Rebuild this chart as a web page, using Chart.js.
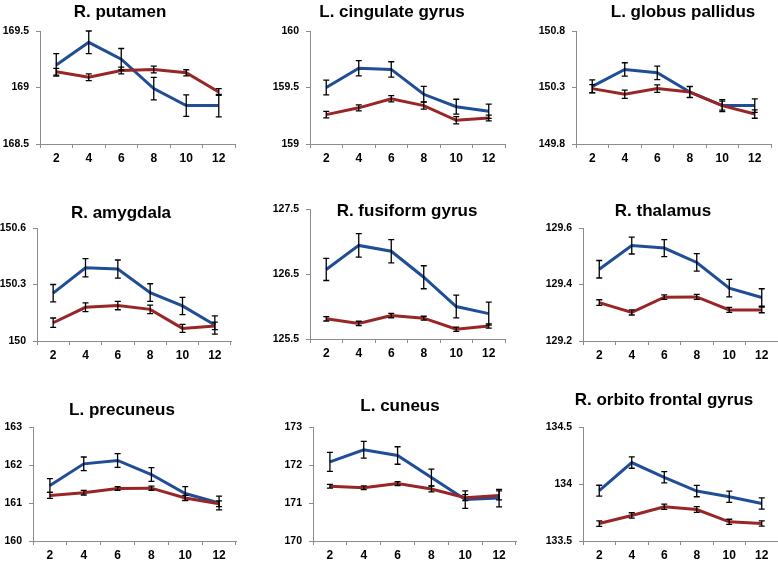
<!DOCTYPE html>
<html>
<head>
<meta charset="utf-8">
<script src="https://cdn.jsdelivr.net/npm/chart.js@4"></script>
<style>
  html, body { margin: 0; padding: 0; background: #fff; overflow: hidden; }
  body { width: 778px; height: 561px; position: relative; }
  .panel { position: absolute; }
</style>
</head>
<body>
<div id="wrap"></div>
<script>
// categories (weeks)
const weeks = ['2', '4', '6', '8', '10', '12'];

// blue = group A, red = group B, with error bars
const putamenA = [169.20, 169.40, 169.25, 168.99, 168.84, 168.84];
const putamenAErr = [0.10, 0.10, 0.095, 0.10, 0.095, 0.10];
const putamenB = [169.14, 169.09, 169.15, 169.16, 169.13, 168.96];
const putamenBErr = [0.03, 0.03, 0.03, 0.03, 0.027, 0.03];
const putamenTicks = [168.5, 169, 169.5];

const cingulateA = [159.50, 159.67, 159.66, 159.44, 159.33, 159.29];
const cingulateAErr = [0.066, 0.068, 0.068, 0.07, 0.066, 0.063];
const cingulateB = [159.26, 159.32, 159.40, 159.34, 159.21, 159.23];
const cingulateBErr = [0.028, 0.026, 0.028, 0.032, 0.032, 0.025];
const cingulateTicks = [159, 159.5, 160];

const pallidusA = [150.31, 150.46, 150.43, 150.26, 150.14, 150.14];
const pallidusAErr = [0.057, 0.059, 0.06, 0.05, 0.053, 0.06];
const pallidusB = [150.29, 150.24, 150.29, 150.26, 150.14, 150.065];
const pallidusBErr = [0.035, 0.037, 0.034, 0.047, 0.04, 0.037];
const pallidusTicks = [149.8, 150.3, 150.8];

const amygdalaA = [150.254, 150.389, 150.382, 150.257, 150.186, 150.085];
const amygdalaAErr = [0.046, 0.048, 0.048, 0.047, 0.046, 0.048];
const amygdalaB = [150.097, 150.179, 150.188, 150.168, 150.067, 150.08];
const amygdalaBErr = [0.025, 0.023, 0.022, 0.023, 0.021, 0.02];
const amygdalaTicks = [150, 150.3, 150.6];

const fusiformA = [126.57, 126.94, 126.85, 126.45, 126.00, 125.89];
const fusiformAErr = [0.17, 0.18, 0.18, 0.177, 0.174, 0.177];
const fusiformB = [125.81, 125.74, 125.86, 125.82, 125.65, 125.70];
const fusiformBErr = [0.033, 0.033, 0.033, 0.03, 0.033, 0.033];
const fusiformTicks = [125.5, 126.5, 127.5];

const thalamusA = [129.454, 129.538, 129.529, 129.478, 129.387, 129.354];
const thalamusAErr = [0.031, 0.03, 0.03, 0.031, 0.031, 0.031];
const thalamusB = [129.336, 129.301, 129.355, 129.356, 129.31, 129.31];
const thalamusBErr = [0.01, 0.009, 0.008, 0.009, 0.009, 0.01];
const thalamusTicks = [129.2, 129.4, 129.6];

const precuneusA = [161.46, 162.03, 162.12, 161.75, 161.25, 161.00];
const precuneusAErr = [0.18, 0.18, 0.18, 0.18, 0.18, 0.18];
const precuneusB = [161.20, 161.27, 161.38, 161.39, 161.13, 160.98];
const precuneusBErr = [0.08, 0.06, 0.05, 0.055, 0.07, 0.075];
const precuneusTicks = [160, 161, 162, 163];

const cuneusA = [172.08, 172.40, 172.25, 171.67, 171.09, 171.13];
const cuneusAErr = [0.25, 0.22, 0.23, 0.22, 0.23, 0.23];
const cuneusB = [171.44, 171.40, 171.51, 171.37, 171.14, 171.20];
const cuneusBErr = [0.05, 0.05, 0.05, 0.075, 0.08, 0.12];
const cuneusTicks = [170, 171, 172, 173];

const orbitoA = [133.941, 134.188, 134.059, 133.938, 133.888, 133.829];
const orbitoAErr = [0.048, 0.05, 0.05, 0.05, 0.05, 0.05];
const orbitoB = [133.653, 133.724, 133.80, 133.776, 133.668, 133.653];
const orbitoBErr = [0.024, 0.024, 0.023, 0.025, 0.023, 0.023];
const orbitoTicks = [133.5, 134, 134.5];

const BLUE = '#1f4e96';
const RED = '#992626';
const AXIS = '#8c8c8c';

// page layout of each panel: axis left/right, top/bottom tick, title centre & baseline
const panels = [
  { title: 'R. putamen', a: putamenA, ae: putamenAErr, b: putamenB, be: putamenBErr, ticks: putamenTicks,
    L: 40, R: 235, T: 31, B: 144, tx: 120, ty: 17 },
  { title: 'L. cingulate gyrus', a: cingulateA, ae: cingulateAErr, b: cingulateB, be: cingulateBErr, ticks: cingulateTicks,
    L: 310, R: 505, T: 31, B: 144, tx: 392, ty: 17 },
  { title: 'L. globus pallidus', a: pallidusA, ae: pallidusAErr, b: pallidusB, be: pallidusBErr, ticks: pallidusTicks,
    L: 576, R: 771, T: 31, B: 144, tx: 683, ty: 17 },
  { title: 'R. amygdala', a: amygdalaA, ae: amygdalaAErr, b: amygdalaB, be: amygdalaBErr, ticks: amygdalaTicks,
    L: 37, R: 231, T: 228, B: 341, tx: 121, ty: 218 },
  { title: 'R. fusiform gyrus', a: fusiformA, ae: fusiformAErr, b: fusiformB, be: fusiformBErr, ticks: fusiformTicks,
    L: 310, R: 505, T: 209, B: 339, tx: 407, ty: 216 },
  { title: 'R. thalamus', a: thalamusA, ae: thalamusAErr, b: thalamusB, be: thalamusBErr, ticks: thalamusTicks,
    L: 583, R: 778, T: 228, B: 341, tx: 663, ty: 216 },
  { title: 'L. precuneus', a: precuneusA, ae: precuneusAErr, b: precuneusB, be: precuneusBErr, ticks: precuneusTicks,
    L: 33, R: 236, T: 427, B: 541, tx: 122, ty: 415 },
  { title: 'L. cuneus', a: cuneusA, ae: cuneusAErr, b: cuneusB, be: cuneusBErr, ticks: cuneusTicks,
    L: 313, R: 516, T: 427, B: 541, tx: 400, ty: 411 },
  { title: 'R. orbito frontal gyrus', a: orbitoA, ae: orbitoAErr, b: orbitoB, be: orbitoBErr, ticks: orbitoTicks,
    L: 583, R: 778, T: 427, B: 541, tx: 664, ty: 405 }
];

const Y_W = 40, PAD_T = 40, X_H = 26, PAD_R = 3;

// error bars drawn from the same scales as the lines
const errorBars = {
  id: 'errorBars',
  afterDatasetsDraw(chart, args, opts) {
    const ctx = chart.ctx;
    const y = chart.scales.y;
    ctx.save();
    ctx.strokeStyle = '#000';
    ctx.lineWidth = 1.3;
    chart.data.datasets.forEach((ds, i) => {
      const meta = chart.getDatasetMeta(i);
      meta.data.forEach((pt, j) => {
        const v = ds.data[j], e = ds.err[j];
        const y1 = y.getPixelForValue(v + e), y2 = y.getPixelForValue(v - e);
        const x = pt.x;
        ctx.beginPath();
        ctx.moveTo(x, y1); ctx.lineTo(x, y2);
        ctx.moveTo(x - 3, y1); ctx.lineTo(x + 3, y1);
        ctx.moveTo(x - 3, y2); ctx.lineTo(x + 3, y2);
        ctx.stroke();
      });
    });
    ctx.restore();
  }
};

// panel title, placed like the reference
const panelTitle = {
  id: 'panelTitle',
  afterDraw(chart, args, opts) {
    const ctx = chart.ctx;
    ctx.save();
    ctx.font = 'bold 17px "Liberation Sans", Arial, sans-serif';
    ctx.fillStyle = '#000';
    ctx.textAlign = 'center';
    ctx.textBaseline = 'alphabetic';
    ctx.fillText(opts.text, opts.x, opts.y);
    ctx.restore();
  }
};

const wrap = document.getElementById('wrap');

panels.forEach((p) => {
  const left = p.L - Y_W, top = p.T - PAD_T;
  const w = Y_W + (p.R - p.L) + PAD_R;
  const h = PAD_T + (p.B - p.T) + X_H;
  const div = document.createElement('div');
  div.className = 'panel';
  div.style.left = left + 'px';
  div.style.top = top + 'px';
  const cv = document.createElement('canvas');
  cv.width = w; cv.height = h;
  cv.style.width = w + 'px'; cv.style.height = h + 'px';
  div.appendChild(cv);
  wrap.appendChild(div);

  new Chart(cv.getContext('2d'), {
    type: 'line',
    data: {
      labels: weeks,
      datasets: [
        { data: p.b, err: p.be, borderColor: RED, borderWidth: 3, pointRadius: 0, tension: 0 },
        { data: p.a, err: p.ae, borderColor: BLUE, borderWidth: 3, pointRadius: 0, tension: 0 }
      ]
    },
    options: {
      responsive: false,
      animation: false,
      devicePixelRatio: 1,
      layout: { padding: { top: PAD_T, left: 0, right: PAD_R, bottom: 0 } },
      plugins: {
        legend: { display: false },
        tooltip: { enabled: false },
        panelTitle: { text: p.title, x: p.tx - left, y: p.ty - top }
      },
      scales: {
        x: {
          offset: true,
          grid: { offset: true, drawOnChartArea: false, color: AXIS, tickLength: 4 },
          border: { color: AXIS },
          ticks: { color: '#000', padding: 3, maxRotation: 0,
                   font: { family: '"Liberation Sans", Arial, sans-serif', size: 12, weight: 'bold' } },
          afterFit(s) { s.height = X_H; }
        },
        y: {
          min: p.ticks[0],
          max: p.ticks[p.ticks.length - 1],
          afterBuildTicks(s) { s.ticks = p.ticks.map((v) => ({ value: v })); },
          grid: { drawOnChartArea: false, color: AXIS, tickLength: 4 },
          border: { color: AXIS },
          ticks: { color: '#000', padding: 7,
                   callback: (v) => String(+(+v).toFixed(2)),
                   font: { family: '"Liberation Sans", Arial, sans-serif', size: 10.5, weight: 'bold' } },
          afterFit(s) { s.width = Y_W; }
        }
      }
    },
    plugins: [errorBars, panelTitle]
  });
});
</script>
</body>
</html>
